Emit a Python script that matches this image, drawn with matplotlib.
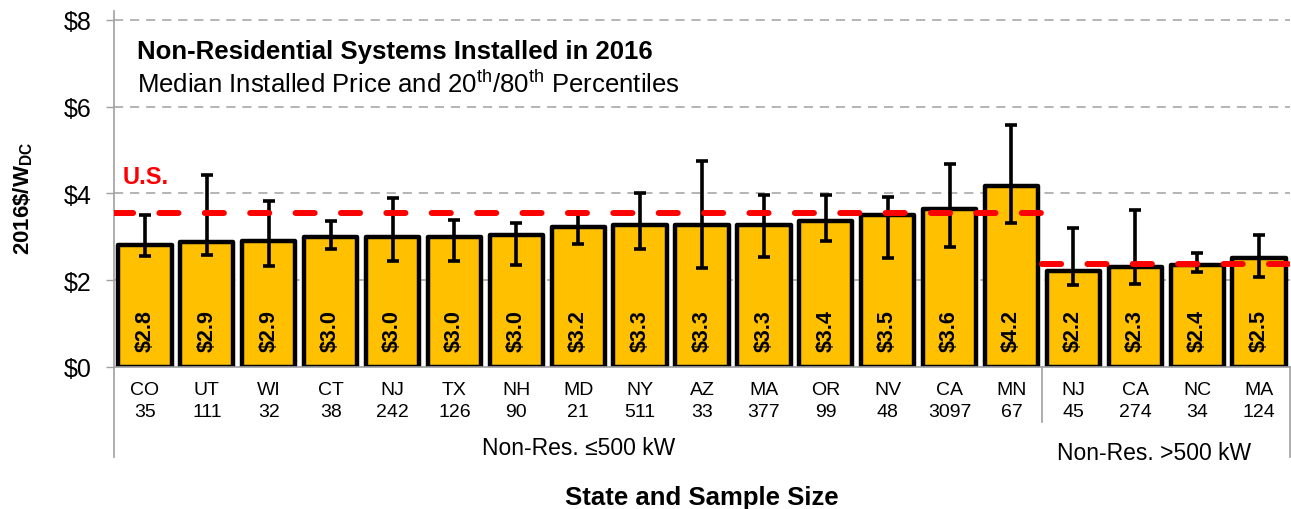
import numpy as np
import matplotlib
matplotlib.use("Agg")
import matplotlib.pyplot as plt
import matplotlib.transforms as mtransforms

plt.rcParams["font.family"] = ["Liberation Sans", "DejaVu Sans"]
plt.rcParams["mathtext.fontset"] = "custom"
plt.rcParams["mathtext.rm"] = "Liberation Sans"
plt.rcParams["mathtext.bf"] = "Liberation Sans:bold"

#%% data
states = ["CO", "UT", "WI", "CT", "NJ", "TX", "NH", "MD", "NY", "AZ",
          "MA", "OR", "NV", "CA", "MN", "NJ", "CA", "NC", "MA"]
sample_n = [35, 111, 32, 38, 242, 126, 90, 21, 511, 33,
            377, 99, 48, 3097, 67, 45, 274, 34, 124]
median = [2.82, 2.88, 2.91, 2.99, 3.00, 3.00, 3.03, 3.23, 3.26, 3.27,
          3.28, 3.36, 3.49, 3.64, 4.17, 2.22, 2.30, 2.36, 2.50]
p20 = [2.56, 2.58, 2.33, 2.72, 2.45, 2.45, 2.36, 2.83, 2.72, 2.28,
       2.54, 2.91, 2.50, 2.76, 3.32, 1.89, 1.91, 2.18, 2.07]
p80 = [3.50, 4.42, 3.83, 3.36, 3.89, 3.39, 3.32, 3.52, 4.01, 4.74,
       3.96, 3.97, 3.92, 4.68, 5.58, 3.20, 3.62, 2.62, 3.05]
groups = ["Non-Res. \u2264500 kW", "Non-Res. >500 kW"]
group_size = [15, 4]
us_median = [3.55, 2.37]
yticks = [0, 2, 4, 6, 8]

#%% plotting
fig = plt.figure(figsize=(12.91, 5.10), dpi=100)
ax = fig.add_axes([114 / 1291, 1 - 368 / 510, 1176 / 1291, 356 / 510])

x = np.arange(len(states))
med = np.array(median)
yerr = [med - np.array(p20), np.array(p80) - med]

for yv in yticks[1:]:
    ax.axhline(yv, color="#A0A0A0", lw=1.1, ls=(0, (6, 4.5)), zorder=0)

ax.bar(x, med, width=0.86, color="#FFC000", edgecolor="black", linewidth=3.2,
       joinstyle="round", zorder=2)
ax.errorbar(x, med, yerr=yerr, fmt="none", ecolor="black", elinewidth=2.6,
            capsize=4.5, capthick=2.6, zorder=3)

for xi, v in zip(x, med):
    ax.text(xi, 0.37, f"${v:.1f}", rotation=90, ha="center", va="bottom",
            fontsize=15.5, fontweight="bold", zorder=4)

# U.S. median lines per group
start = -0.5
for size, us in zip(group_size, us_median):
    ax.plot([start, start + size], [us, us], color="red", lw=4.3,
            dashes=(3.2, 4.4), dash_capstyle="round", zorder=5)
    start += size
ax.text(0.01, 4.38, "U.S.", color="red", fontsize=17, fontweight="bold",
        ha="center", va="center")

ax.set_xlim(-0.5, len(states) - 0.5)
ax.set_ylim(0, 8.2)
ax.set_yticks(yticks)
ax.set_yticklabels([f"${v}" for v in yticks], fontsize=18)
ax.tick_params(axis="y", length=6, width=1, color="#A0A0A0", pad=10)
ax.set_xticks([])
for s in ["top", "right"]:
    ax.spines[s].set_visible(False)
for s in ["left", "bottom"]:
    ax.spines[s].set_color("#A0A0A0")
    ax.spines[s].set_linewidth(1.2)

# category labels
trans = mtransforms.blended_transform_factory(ax.transData, ax.transAxes)
for xi, st, n in zip(x, states, sample_n):
    ax.text(xi, -0.062, st, transform=trans, ha="center", va="center", fontsize=14)
    ax.text(xi, -0.126, str(n), transform=trans, ha="center", va="center", fontsize=14)

for xd, ybot in [(-0.5, -0.253), (14.5, -0.155), (18.5, -0.253)]:
    ax.plot([xd, xd], [0, ybot], transform=trans, color="#A0A0A0", lw=1.2,
            clip_on=False)
ax.text(7.0, -0.225, groups[0], transform=trans, ha="center", va="center", fontsize=16.5)
ax.text(16.3, -0.239, groups[1], transform=trans, ha="center", va="center", fontsize=16.5)

fig.text(702 / 1291, 1 - 498 / 510, "State and Sample Size", ha="center",
         va="center", fontsize=18.5, fontweight="bold")
fig.text(23 / 1291, 1 - 198 / 510, r"2016\$/W$_{\mathbf{DC}}$", rotation=90,
         ha="center", va="center", fontsize=16, fontweight="bold")

fig.text(137 / 1291, 1 - 52 / 510, "Non-Residential Systems Installed in 2016",
         ha="left", va="center", fontsize=18.5, fontweight="bold")
fig.text(137 / 1291, 1 - 84 / 510,
         r"Median Installed Price and 20$^{\mathrm{th}}$/80$^{\mathrm{th}}$ Percentiles",
         ha="left", va="center", fontsize=18.5)

fig.savefig("out.png", dpi=100)
